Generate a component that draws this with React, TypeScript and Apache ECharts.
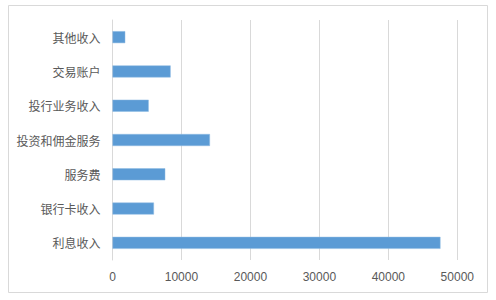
import React, { useEffect, useRef } from "react";
import * as echarts from "echarts";

const categories = ["利息收入", "银行卡收入", "服务费", "投资和佣金服务", "投行业务收入", "交易账户", "其他收入"];
const values = [47560, 6010, 7650, 14130, 5250, 8430, 1850];
const xMin = 0;
const xMax = 50000;
const xInterval = 10000;

export default function App() {
  const ref = useRef<HTMLDivElement>(null);
  useEffect(() => {
    if (!ref.current) return;
    const chart = echarts.init(ref.current, null, { renderer: "svg" });
    chart.setOption({
      animation: false,
      backgroundColor: "#ffffff",
      graphic: [
        {
          type: "rect",
          shape: { x: 8.5, y: 5.5, width: 479, height: 287 },
          style: { fill: "none", stroke: "#d9d9d9", lineWidth: 1 },
          silent: true,
          z: -10,
        },
      ],
      grid: { left: 112.5, right: 38.7, top: 20, bottom: 40, containLabel: false },
      xAxis: {
        type: "value",
        min: xMin,
        max: xMax,
        interval: xInterval,
        axisLine: { show: false },
        axisTick: { show: false },
        axisLabel: {
          color: "#595959",
          fontSize: 12,
          fontFamily: "Liberation Sans, Arial, sans-serif",
          margin: 11,
          formatter: (v: number) => String(v),
        },
        splitLine: { show: true, lineStyle: { color: "#d9d9d9", width: 1 } },
      },
      yAxis: {
        type: "category",
        data: categories,
        axisLine: { show: true, lineStyle: { color: "#d9d9d9", width: 1 } },
        axisTick: { show: false },
        axisLabel: {
          color: "#595959",
          fontSize: 12,
          fontFamily: "Noto Sans CJK SC, sans-serif",
          margin: 12,
        },
        splitLine: { show: false },
      },
      series: [
        {
          type: "bar",
          data: values,
          barWidth: 12,
          itemStyle: { color: "#5b9bd5", borderColor: "#8fbbe3", borderWidth: 0.5 },
        },
      ],
    });
    return () => chart.dispose();
  }, []);
  return (
    <div
      ref={ref}
      style={{ position: "fixed", left: 0, top: 0, width: 496, height: 300 }}
    />
  );
}
